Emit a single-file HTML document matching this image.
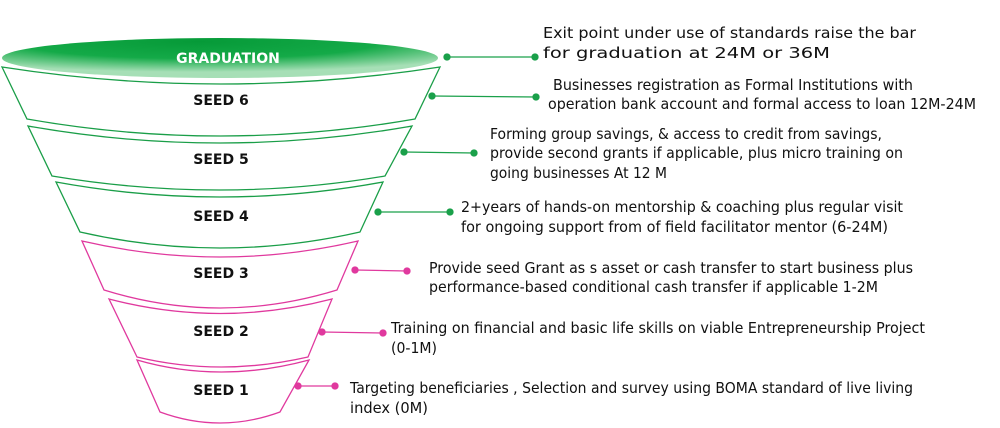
<!DOCTYPE html>
<html><head><meta charset="utf-8"><style>
html,body{margin:0;padding:0;background:#fff;}
svg{display:block;}
text{font-family:"DejaVu Sans","Liberation Sans",sans-serif;}
.t{font-size:15px;fill:#111;}
.s{font-size:14px;font-weight:bold;fill:#111;text-anchor:middle;}
</style></head><body>
<svg width="1000" height="428" viewBox="0 0 1000 428" xmlns="http://www.w3.org/2000/svg">
<defs>
<radialGradient id="g" cx="0.45" cy="0.1" r="0.75" gradientTransform="translate(0,0)">
<stop offset="0" stop-color="#069a38"/>
<stop offset="0.55" stop-color="#14aa48"/>
<stop offset="1" stop-color="#a6dfb6"/>
</radialGradient>
</defs>
<g fill="#fff" stroke-width="1.3">
<path d="M2,67 Q220,101 440,67 L415,119 Q220,153 27,119 Z" stroke="#1a9e48"/>
<path d="M28,126 Q220,160 412,126 L385,176 Q220,204 52,176 Z" stroke="#1a9e48"/>
<path d="M56,182 Q220,212 383,182 L360,232 Q220,264 80,232 Z" stroke="#1a9e48"/>
<path d="M82,241 Q220,273 358,241 L337,290 Q220,326 104,290 Z" stroke="#e0399e"/>
<path d="M109,299 Q220,328 332,299 L308,357 Q220,377 137,357 Z" stroke="#e0399e"/>
<path d="M137,360 Q220,384 309,360 L280,412 Q220,434 160,412 Z" stroke="#e0399e"/>
</g>
<ellipse cx="220" cy="58" rx="218" ry="20" fill="url(#g)"/>
<text x="228" y="63" class="s" style="fill:#fff">GRADUATION</text>
<text x="221" y="105" class="s">SEED 6</text>
<text x="221" y="164" class="s">SEED 5</text>
<text x="221" y="221" class="s">SEED 4</text>
<text x="221" y="278" class="s">SEED 3</text>
<text x="221" y="336" class="s">SEED 2</text>
<text x="221" y="395" class="s">SEED 1</text>
<g stroke-width="1.3">
<g stroke="#1aa04a" fill="#1aa04a">
<line x1="447" y1="57" x2="535" y2="57"/><circle cx="447" cy="57" r="3"/><circle cx="535" cy="57" r="3"/>
<line x1="432" y1="96" x2="536" y2="97"/><circle cx="432" cy="96" r="3"/><circle cx="536" cy="97" r="3"/>
<line x1="404" y1="152" x2="474" y2="153"/><circle cx="404" cy="152" r="3"/><circle cx="474" cy="153" r="3"/>
<line x1="378" y1="212" x2="450" y2="212"/><circle cx="378" cy="212" r="3"/><circle cx="450" cy="212" r="3"/>
</g>
<g stroke="#e0399e" fill="#e0399e">
<line x1="355" y1="270" x2="407" y2="271"/><circle cx="355" cy="270" r="3"/><circle cx="407" cy="271" r="3"/>
<line x1="322" y1="332" x2="383" y2="333"/><circle cx="322" cy="332" r="3"/><circle cx="383" cy="333" r="3"/>
<line x1="298" y1="386" x2="335" y2="386"/><circle cx="298" cy="386" r="3"/><circle cx="335" cy="386" r="3"/>
</g>
</g>
<text class="t" x="543" y="38" textLength="373" lengthAdjust="spacingAndGlyphs">Exit point under use of standards raise the bar</text>
<text class="t" x="543" y="58" textLength="287" lengthAdjust="spacingAndGlyphs">for graduation at 24M or 36M</text>
<text class="t" x="553" y="90" textLength="360" lengthAdjust="spacingAndGlyphs">Businesses registration as Formal Institutions with</text>
<text class="t" x="548" y="109" textLength="428" lengthAdjust="spacingAndGlyphs">operation bank account and formal access to loan 12M-24M</text>
<text class="t" x="490" y="139" textLength="392" lengthAdjust="spacingAndGlyphs">Forming group savings, &amp; access to credit from savings,</text>
<text class="t" x="490" y="158" textLength="413" lengthAdjust="spacingAndGlyphs">provide second grants if applicable, plus micro training on</text>
<text class="t" x="490" y="178" textLength="177" lengthAdjust="spacingAndGlyphs">going businesses At 12 M</text>
<text class="t" x="461" y="212" textLength="442" lengthAdjust="spacingAndGlyphs">2+years of hands-on mentorship &amp; coaching plus regular visit</text>
<text class="t" x="461" y="232" textLength="427" lengthAdjust="spacingAndGlyphs">for ongoing support from of field facilitator mentor (6-24M)</text>
<text class="t" x="429" y="273" textLength="484" lengthAdjust="spacingAndGlyphs">Provide seed Grant as s asset or cash transfer to start business plus</text>
<text class="t" x="429" y="292" textLength="449" lengthAdjust="spacingAndGlyphs">performance-based conditional cash transfer if applicable 1-2M</text>
<text class="t" x="391" y="333" textLength="534" lengthAdjust="spacingAndGlyphs">Training on financial and basic life skills on viable Entrepreneurship Project</text>
<text class="t" x="391" y="353" textLength="46" lengthAdjust="spacingAndGlyphs">(0-1M)</text>
<text class="t" x="350" y="393" textLength="563" lengthAdjust="spacingAndGlyphs">Targeting beneficiaries , Selection and survey using BOMA standard of live living</text>
<text class="t" x="350" y="413" textLength="78" lengthAdjust="spacingAndGlyphs">index (0M)</text>
</svg>
</body></html>
